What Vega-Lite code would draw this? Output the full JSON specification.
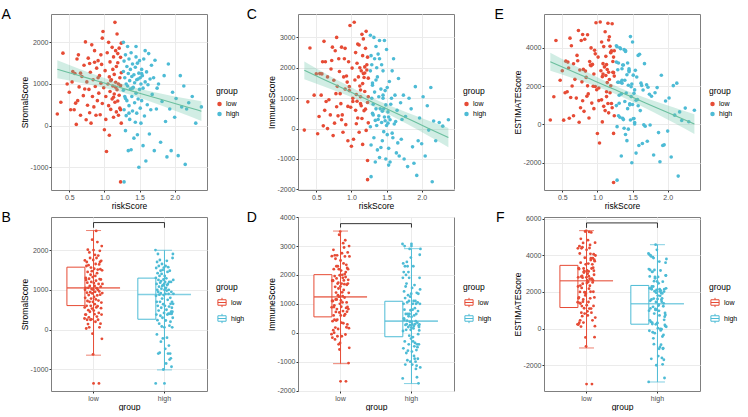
{
"$schema": "https://vega.github.io/schema/vega-lite/v6.json",
"padding": {"left": 0, "top": 7, "right": 0, "bottom": 0},
"datasets": {
"samples": [
{"id":1,"r":0.33,"g":"low","s":280,"i":-50,"e":230},
{"id":3,"r":0.38,"g":"low","s":560,"i":880,"e":1440},
{"id":5,"r":0.41,"g":"low","s":1740,"i":2650,"e":4380},
{"id":7,"r":0.47,"g":"low","s":1000,"i":1100,"e":2300},
{"id":9,"r":0.50,"g":"low","s":800,"i":1800,"e":2800},
{"id":11,"r":0.52,"g":"low","s":380,"i":-170,"e":220},
{"id":13,"r":0.54,"g":"low","s":1050,"i":400,"e":1650},
{"id":15,"r":0.55,"g":"low","s":1300,"i":1810,"e":3300},
{"id":17,"r":0.57,"g":"low","s":380,"i":1100,"e":1700},
{"id":19,"r":0.58,"g":"low","s":1250,"i":1800,"e":3250},
{"id":21,"r":0.60,"g":"low","s":30,"i":90,"e":320},
{"id":23,"r":0.61,"g":"low","s":1600,"i":2870,"e":4500},
{"id":25,"r":0.62,"g":"low","s":600,"i":600,"e":1400},
{"id":27,"r":0.63,"g":"low","s":1700,"i":2200,"e":4100},
{"id":29,"r":0.64,"g":"low","s":930,"i":890,"e":2000},
{"id":31,"r":0.66,"g":"low","s":250,"i":0,"e":450},
{"id":33,"r":0.68,"g":"low","s":1180,"i":950,"e":2350},
{"id":35,"r":0.70,"g":"low","s":720,"i":450,"e":1370},
{"id":37,"r":0.71,"g":"low","s":1450,"i":1960,"e":3600},
{"id":39,"r":0.73,"g":"low","s":2010,"i":2680,"e":4900},
{"id":41,"r":0.74,"g":"low","s":140,"i":-230,"e":110},
{"id":43,"r":0.75,"g":"low","s":1050,"i":1590,"e":2840},
{"id":45,"r":0.76,"g":"low","s":490,"i":180,"e":870},
{"id":47,"r":0.77,"g":"low","s":1620,"i":2560,"e":4380},
{"id":49,"r":0.78,"g":"low","s":870,"i":1150,"e":2220},
{"id":51,"r":0.79,"g":"low","s":310,"i":720,"e":1230},
{"id":53,"r":0.80,"g":"low","s":1280,"i":1390,"e":2870},
{"id":55,"r":0.81,"g":"low","s":60,"i":420,"e":680},
{"id":57,"r":0.82,"g":"low","s":1940,"i":2300,"e":4440},
{"id":59,"r":0.83,"g":"low","s":700,"i":1880,"e":2780},
{"id":61,"r":0.84,"g":"low","s":1100,"i":1150,"e":2450},
{"id":63,"r":0.85,"g":"low","s":450,"i":820,"e":1470},
{"id":65,"r":0.86,"g":"low","s":1800,"i":2680,"e":4680},
{"id":67,"r":0.87,"g":"low","s":940,"i":450,"e":1590},
{"id":69,"r":0.88,"g":"low","s":250,"i":-120,"e":330},
{"id":71,"r":0.89,"g":"low","s":1380,"i":1700,"e":3280},
{"id":73,"r":0.90,"g":"low","s":600,"i":2300,"e":3100},
{"id":75,"r":0.91,"g":"low","s":1560,"i":1300,"e":3060},
{"id":77,"r":0.92,"g":"low","s":780,"i":130,"e":1110},
{"id":79,"r":0.93,"g":"low","s":1200,"i":1730,"e":3130},
{"id":81,"r":0.94,"g":"low","s":260,"i":1530,"e":1990},
{"id":83,"r":0.95,"g":"low","s":1020,"i":-400,"e":820},
{"id":85,"r":0.96,"g":"low","s":1470,"i":2200,"e":3870},
{"id":87,"r":0.97,"g":"low","s":530,"i":1250,"e":1980},
{"id":89,"r":0.98,"g":"low","s":2260,"i":3390,"e":5300},
{"id":91,"r":0.99,"g":"low","s":910,"i":700,"e":1810},
{"id":93,"r":1.00,"g":"low","s":-100,"i":-580,"e":-480},
{"id":95,"r":1.01,"g":"low","s":1320,"i":1990,"e":3510},
{"id":97,"r":1.02,"g":"low","s":700,"i":1000,"e":1900},
{"id":99,"r":1.03,"g":"low","s":-620,"i":-350,"e":-970},
{"id":101,"r":1.04,"g":"low","s":1750,"i":3500,"e":5340},
{"id":103,"r":1.05,"g":"low","s":1000,"i":1600,"e":2800},
{"id":105,"r":1.06,"g":"low","s":2000,"i":2500,"e":4300},
{"id":107,"r":1.06,"g":"low","s":480,"i":600,"e":1280},
{"id":109,"r":1.07,"g":"low","s":1170,"i":1120,"e":2490},
{"id":111,"r":1.08,"g":"low","s":820,"i":2150,"e":3170},
{"id":113,"r":1.08,"g":"low","s":1530,"i":900,"e":2630},
{"id":115,"r":1.09,"g":"low","s":390,"i":350,"e":940},
{"id":117,"r":1.10,"g":"low","s":1100,"i":1700,"e":3000},
{"id":119,"r":1.11,"g":"low","s":640,"i":-120,"e":720},
{"id":121,"r":1.11,"g":"low","s":1880,"i":2750,"e":4830},
{"id":123,"r":1.12,"g":"low","s":950,"i":1400,"e":2550},
{"id":125,"r":1.12,"g":"low","s":1350,"i":2000,"e":3550},
{"id":127,"r":1.13,"g":"low","s":200,"i":1050,"e":1450},
{"id":129,"r":1.13,"g":"low","s":1650,"i":1270,"e":3120},
{"id":131,"r":1.14,"g":"low","s":760,"i":1900,"e":2860},
{"id":133,"r":1.14,"g":"low","s":1230,"i":750,"e":2180},
{"id":135,"r":1.15,"g":"low","s":2480,"i":3100,"e":5280},
{"id":137,"r":1.15,"g":"low","s":560,"i":330,"e":1090},
{"id":139,"r":1.16,"g":"low","s":1800,"i":2400,"e":4400},
{"id":141,"r":1.16,"g":"low","s":1040,"i":1480,"e":2720},
{"id":143,"r":1.17,"g":"low","s":330,"i":1810,"e":2340},
{"id":145,"r":1.17,"g":"low","s":1420,"i":2950,"e":4570},
{"id":147,"r":1.18,"g":"low","s":860,"i":590,"e":1650},
{"id":149,"r":1.18,"g":"low","s":2200,"i":1680,"e":4080},
{"id":151,"r":1.19,"g":"low","s":590,"i":1220,"e":2010},
{"id":153,"r":1.19,"g":"low","s":1510,"i":2030,"e":3740},
{"id":155,"r":1.20,"g":"low","s":1000,"i":2640,"e":3840},
{"id":157,"r":1.20,"g":"low","s":250,"i":640,"e":1090},
{"id":159,"r":1.21,"g":"low","s":1860,"i":3200,"e":5250},
{"id":161,"r":1.21,"g":"low","s":730,"i":-60,"e":870},
{"id":163,"r":1.22,"g":"low","s":1150,"i":1930,"e":3280},
{"id":165,"r":1.22,"g":"low","s":420,"i":2100,"e":2720},
{"id":167,"r":1.23,"g":"low","s":-1350,"i":-1680,"e":-3030},
{"id":169,"r":1.23,"g":"low","s":1640,"i":860,"e":2700},
{"id":171,"r":1.23,"g":"low","s":960,"i":2350,"e":3510},
{"id":173,"r":1.24,"g":"low","s":60,"i":190,"e":450},
{"id":175,"r":1.24,"g":"low","s":1270,"i":1050,"e":2520},
{"id":177,"r":1.24,"g":"low","s":1980,"i":1660,"e":3840},
{"id":179,"r":0.95,"g":"low","s":1700,"i":730,"e":2630},
{"id":181,"r":0.72,"g":"low","s":880,"i":2240,"e":3320},
{"id":183,"r":0.86,"g":"low","s":1520,"i":290,"e":2010},
{"id":185,"r":1.02,"g":"low","s":150,"i":890,"e":1240},
{"id":187,"r":1.09,"g":"low","s":1080,"i":2780,"e":4060},
{"id":189,"r":0.66,"g":"low","s":1260,"i":1700,"e":3160},
{"id":191,"r":0.59,"g":"low","s":540,"i":2200,"e":2940},
{"id":193,"r":1.19,"g":"low","s":1730,"i":1830,"e":3760},
{"id":195,"r":1.13,"g":"low","s":680,"i":820,"e":1700},
{"id":197,"r":1.23,"g":"low","s":380,"i":-1050,"e":-470},
{"id":199,"r":0.97,"g":"low","s":2100,"i":1380,"e":3680},
{"id":201,"r":1.07,"g":"low","s":-230,"i":160,"e":130},
{"id":203,"r":0.79,"g":"low","s":1490,"i":3000,"e":4690},
{"id":205,"r":1.16,"g":"low","s":920,"i":-520,"e":600},
{"id":207,"r":0.91,"g":"low","s":1150,"i":2640,"e":3990},
{"id":2,"r":1.27,"g":"high","s":2000,"i":3070,"e":4100},
{"id":4,"r":1.28,"g":"high","s":-1350,"i":-1580,"e":-2910},
{"id":6,"r":1.27,"g":"high","s":1300,"i":1900,"e":3250},
{"id":8,"r":1.27,"g":"high","s":850,"i":60,"e":980},
{"id":10,"r":1.28,"g":"high","s":1550,"i":2400,"e":4050},
{"id":12,"r":1.28,"g":"high","s":380,"i":-540,"e":-120},
{"id":14,"r":1.29,"g":"high","s":1150,"i":1000,"e":2200},
{"id":16,"r":1.29,"g":"high","s":700,"i":2100,"e":2850},
{"id":18,"r":1.30,"g":"high","s":-120,"i":500,"e":450},
{"id":20,"r":1.30,"g":"high","s":1700,"i":1430,"e":3200},
{"id":22,"r":1.31,"g":"high","s":1000,"i":450,"e":1520},
{"id":24,"r":1.31,"g":"high","s":240,"i":800,"e":1100},
{"id":26,"r":1.32,"g":"high","s":1420,"i":3000,"e":4000},
{"id":28,"r":1.32,"g":"high","s":600,"i":-300,"e":370},
{"id":30,"r":1.33,"g":"high","s":1900,"i":2300,"e":3950},
{"id":32,"r":1.33,"g":"high","s":950,"i":1200,"e":2200},
{"id":34,"r":1.34,"g":"high","s":-600,"i":-1100,"e":-1650},
{"id":36,"r":1.34,"g":"high","s":1250,"i":270,"e":1590},
{"id":38,"r":1.35,"g":"high","s":480,"i":1600,"e":2150},
{"id":40,"r":1.35,"g":"high","s":1600,"i":650,"e":2300},
{"id":42,"r":1.36,"g":"high","s":1080,"i":2000,"e":3100},
{"id":44,"r":1.36,"g":"high","s":150,"i":100,"e":320},
{"id":46,"r":1.37,"g":"high","s":880,"i":-700,"e":250},
{"id":48,"r":1.37,"g":"high","s":1350,"i":1700,"e":3100},
{"id":50,"r":1.38,"g":"high","s":-580,"i":300,"e":-200},
{"id":52,"r":1.38,"g":"high","s":1750,"i":2450,"e":3900},
{"id":54,"r":1.39,"g":"high","s":700,"i":420,"e":1190},
{"id":56,"r":1.39,"g":"high","s":1180,"i":1050,"e":2300},
{"id":58,"r":1.40,"g":"high","s":350,"i":-950,"e":-530},
{"id":60,"r":1.40,"g":"high","s":1480,"i":2300,"e":3850},
{"id":62,"r":1.41,"g":"high","s":920,"i":650,"e":1640},
{"id":64,"r":1.42,"g":"high","s":-300,"i":-620,"e":-850},
{"id":66,"r":1.42,"g":"high","s":1220,"i":1300,"e":2590},
{"id":68,"r":1.43,"g":"high","s":550,"i":200,"e":820},
{"id":70,"r":1.43,"g":"high","s":1030,"i":2100,"e":3200},
{"id":72,"r":1.44,"g":"high","s":1400,"i":570,"e":2040},
{"id":74,"r":1.44,"g":"high","s":80,"i":-400,"e":-250},
{"id":76,"r":1.45,"g":"high","s":1650,"i":1100,"e":2820},
{"id":78,"r":1.45,"g":"high","s":780,"i":1900,"e":2750},
{"id":80,"r":1.46,"g":"high","s":1100,"i":-100,"e":1070},
{"id":82,"r":1.46,"g":"high","s":300,"i":650,"e":1020},
{"id":84,"r":1.47,"g":"high","s":1500,"i":2900,"e":4580},
{"id":86,"r":1.47,"g":"high","s":-220,"i":380,"e":230},
{"id":88,"r":1.48,"g":"high","s":1120,"i":260,"e":1450},
{"id":90,"r":1.48,"g":"high","s":640,"i":1250,"e":1960},
{"id":92,"r":1.49,"g":"high","s":-1000,"i":-1000,"e":-2000},
{"id":94,"r":1.49,"g":"high","s":1260,"i":780,"e":2110},
{"id":96,"r":1.50,"g":"high","s":870,"i":100,"e":1040},
{"id":98,"r":1.50,"g":"high","s":1560,"i":2600,"e":4300},
{"id":100,"r":1.51,"g":"high","s":420,"i":-200,"e":290},
{"id":102,"r":1.51,"g":"high","s":1150,"i":1350,"e":2570},
{"id":104,"r":1.52,"g":"high","s":60,"i":180,"e":310},
{"id":106,"r":1.52,"g":"high","s":1000,"i":550,"e":1620},
{"id":108,"r":1.53,"g":"high","s":1350,"i":380,"e":1800},
{"id":110,"r":1.53,"g":"high","s":600,"i":-650,"e":20},
{"id":112,"r":1.54,"g":"high","s":1200,"i":1550,"e":2820},
{"id":114,"r":1.55,"g":"high","s":-480,"i":-1100,"e":-1500},
{"id":116,"r":1.55,"g":"high","s":900,"i":290,"e":1260},
{"id":118,"r":1.56,"g":"high","s":1600,"i":800,"e":2470},
{"id":120,"r":1.57,"g":"high","s":230,"i":1000,"e":1300},
{"id":122,"r":1.58,"g":"high","s":1050,"i":-150,"e":970},
{"id":124,"r":1.59,"g":"high","s":-850,"i":-300,"e":-1100},
{"id":126,"r":1.60,"g":"high","s":1290,"i":2300,"e":3660},
{"id":128,"r":1.61,"g":"high","s":500,"i":150,"e":720},
{"id":130,"r":1.62,"g":"high","s":980,"i":1100,"e":2150},
{"id":132,"r":1.63,"g":"high","s":1730,"i":230,"e":2030},
{"id":134,"r":1.64,"g":"high","s":-200,"i":-800,"e":-1000},
{"id":136,"r":1.65,"g":"high","s":1120,"i":600,"e":1790},
{"id":138,"r":1.66,"g":"high","s":380,"i":-470,"e":-20},
{"id":140,"r":1.67,"g":"high","s":1450,"i":1650,"e":3170},
{"id":142,"r":1.68,"g":"high","s":750,"i":-900,"e":-100},
{"id":144,"r":1.70,"g":"high","s":1150,"i":850,"e":2070},
{"id":146,"r":1.71,"g":"high","s":-600,"i":-350,"e":-880},
{"id":148,"r":1.72,"g":"high","s":1570,"i":300,"e":1940},
{"id":150,"r":1.74,"g":"high","s":400,"i":1100,"e":1570},
{"id":152,"r":1.75,"g":"high","s":900,"i":-1000,"e":-30},
{"id":154,"r":1.77,"g":"high","s":1000,"i":400,"e":1470},
{"id":156,"r":1.80,"g":"high","s":-400,"i":-1250,"e":-1600},
{"id":158,"r":1.82,"g":"high","s":580,"i":1000,"e":1650},
{"id":160,"r":1.85,"g":"high","s":1200,"i":650,"e":1920},
{"id":162,"r":1.87,"g":"high","s":100,"i":-600,"e":-430},
{"id":164,"r":1.89,"g":"high","s":-750,"i":-1140,"e":-1950},
{"id":166,"r":1.91,"g":"high","s":1480,"i":1380,"e":2560},
{"id":168,"r":1.93,"g":"high","s":400,"i":-1540,"e":-1100},
{"id":170,"r":1.95,"g":"high","s":-600,"i":-400,"e":-1070},
{"id":172,"r":1.97,"g":"high","s":800,"i":350,"e":1220},
{"id":174,"r":2.00,"g":"high","s":200,"i":-500,"e":-350},
{"id":176,"r":2.02,"g":"high","s":650,"i":1050,"e":1380},
{"id":178,"r":2.05,"g":"high","s":-720,"i":-900,"e":-1700},
{"id":180,"r":2.08,"g":"high","s":1200,"i":750,"e":2020},
{"id":182,"r":2.10,"g":"high","s":450,"i":-50,"e":480},
{"id":184,"r":2.13,"g":"high","s":950,"i":1350,"e":2150},
{"id":186,"r":2.15,"g":"high","s":-930,"i":-1750,"e":-2700},
{"id":188,"r":2.17,"g":"high","s":400,"i":250,"e":650},
{"id":190,"r":2.20,"g":"high","s":550,"i":-400,"e":200},
{"id":192,"r":2.25,"g":"high","s":700,"i":200,"e":850},
{"id":194,"r":2.30,"g":"high","s":60,"i":80,"e":140},
{"id":196,"r":2.38,"g":"high","s":450,"i":290,"e":740},
{"id":198,"r":1.58,"g":"high","s":1800,"i":1900,"e":3600},
{"id":200,"r":1.35,"g":"high","s":300,"i":2700,"e":2900},
{"id":202,"r":1.45,"g":"high","s":1900,"i":1000,"e":2900},
{"id":204,"r":1.30,"g":"high","s":650,"i":1500,"e":2200},
{"id":206,"r":1.53,"g":"high","s":1250,"i":-1200,"e":100},
{"id":208,"r":1.40,"g":"high","s":900,"i":2900,"e":3800}
],
"fit": [
{"x":0.33,"sFit":1352,"sLo":1135,"sHi":1569,"iFit":1918,"iLo":1625,"iHi":2211,"eFit":3270,"eLo":2800,"eHi":3740},
{"x":0.6,"sFit":1220,"sLo":1049,"sHi":1391,"iFit":1626,"iLo":1395,"iHi":1857,"eFit":2842,"eLo":2473,"eHi":3211},
{"x":0.9,"sFit":1073,"sLo":945,"sHi":1201,"iFit":1302,"iLo":1130,"iHi":1474,"eFit":2365,"eLo":2093,"eHi":2637},
{"x":1.2,"sFit":926,"sLo":824,"sHi":1028,"iFit":978,"iLo":840,"iHi":1116,"eFit":1889,"eLo":1675,"eHi":2103},
{"x":1.3,"sFit":877,"sLo":777,"sHi":977,"iFit":870,"iLo":735,"iHi":1005,"eFit":1731,"eLo":1521,"eHi":1941},
{"x":1.5,"sFit":779,"sLo":671,"sHi":887,"iFit":654,"iLo":509,"iHi":799,"eFit":1413,"eLo":1186,"eHi":1640},
{"x":1.8,"sFit":632,"sLo":491,"sHi":773,"iFit":330,"iLo":140,"iHi":520,"eFit":937,"eLo":635,"eHi":1239},
{"x":2.1,"sFit":485,"sLo":298,"sHi":672,"iFit":6,"iLo":-247,"iHi":259,"eFit":461,"eLo":56,"eHi":866},
{"x":2.38,"sFit":347,"sLo":111,"sHi":583,"iFit":-296,"iLo":-615,"iHi":23,"eFit":17,"eLo":-496,"eHi":530}
],
"stats": [
{"p":"s","g":"low","lo":-640,"q1":605,"med":1050,"q3":1570,"hi":2490},
{"p":"s","g":"high","lo":-1010,"q1":262,"med":882,"q3":1295,"hi":1995},
{"p":"i","g":"low","lo":-1069,"q1":550,"med":1242,"q3":2010,"hi":3519},
{"p":"i","g":"high","lo":-1758,"q1":-138,"med":401,"q3":1090,"hi":2910},
{"p":"e","g":"low","lo":-1058,"q1":1150,"med":2614,"q3":3452,"hi":5348},
{"p":"e","g":"high","lo":-2915,"q1":240,"med":1353,"q3":2356,"hi":4581}
],
"brk": [
{"p":"s","g":"low","y":2560,"o":1},{"p":"s","g":"low","y":2690,"o":2},{"p":"s","g":"high","y":2690,"o":3},{"p":"s","g":"high","y":2560,"o":4},
{"p":"i","g":"low","y":3640,"o":1},{"p":"i","g":"low","y":3775,"o":2},{"p":"i","g":"high","y":3775,"o":3},{"p":"i","g":"high","y":3640,"o":4},
{"p":"e","g":"low","y":5500,"o":1},{"p":"e","g":"low","y":5770,"o":2},{"p":"e","g":"high","y":5770,"o":3},{"p":"e","g":"high","y":5500,"o":4}
]
},
"config": {
"font": "Liberation Sans",
"view": {"stroke": "#7f7f7f", "strokeWidth": 1},
"axis": {"domain": false, "gridColor": "#EBEBEB", "gridWidth": 1, "labelFontSize": 7, "labelColor": "#4D4D4D", "titleFontSize": 8.5, "titleFontWeight": "normal", "titleColor": "#000000", "tickColor": "#333333", "tickSize": 2, "labelPadding": 1, "titlePadding": 1, "labelOverlap": false, "labelFlush": false},
"legend": {"titleFontSize": 8.5, "titleFontWeight": "normal", "labelFontSize": 7, "labelColor": "#000000", "titleColor": "#000000", "offset": 9, "padding": 0, "labelOffset": 3, "layout": {"right": {"anchor": "middle"}}},
"title": {"fontSize": 14, "fontWeight": "normal", "color": "#000000"}
},
"spacing": 0,
"resolve": {"scale": {"color": "independent", "stroke": "independent"}, "legend": {"color": "independent", "stroke": "independent"}},
"hconcat": [
{"spacing": 0,
"resolve": {"scale": {"color": "independent", "stroke": "independent"}, "legend": {"color": "independent", "stroke": "independent"}},
"vconcat": [
{"width": 156, "height": 176, "title": {"text": "A", "orient": "left", "anchor": "end", "frame": "group", "angle": 0, "align": "right", "baseline": "top", "offset": 0, "dy": -6},
"resolve": {"axis": {"x": "independent", "y": "independent"}},
"layer": [
{"data": {"name": "samples"}, "mark": {"type": "point", "filled": true, "size": 13, "opacity": 1},
"encoding": {
"x": {"field": "r", "type": "quantitative", "title": "riskScore", "scale": {"domain": [0.24, 2.46], "nice": false, "zero": false}, "axis": {"values": [0.5,1,1.5,2], "labelExpr": "format(datum.value,'.1f')"}},
"y": {"field": "s", "type": "quantitative", "title": "StromalScore", "scale": {"domain": [-1545, 2680], "nice": false, "zero": false}, "axis": {"values": [-1000,0,1000,2000], "labelExpr": "'' + datum.value"}},
"color": {"field": "g", "type": "nominal", "scale": {"domain": ["low","high"], "range": ["#E64B35","#4DBBD5"]}, "legend": {"title": "group", "symbolType": "circle", "symbolSize": 20}}}},
{"data": {"name": "fit"}, "mark": {"type": "area", "color": "#66C2A5", "opacity": 0.3, "interpolate": "monotone"},
"encoding": {"x": {"field": "x", "type": "quantitative", "axis": {"orient": "top", "values": [0.25,0.75,1.25,1.75,2.25], "labels": false, "ticks": false, "domain": false, "title": null, "gridWidth": 0.5}}, "y": {"field": "sLo", "type": "quantitative", "axis": {"orient": "right", "values": [-1500,-500,500,1500,2500], "labels": false, "ticks": false, "domain": false, "title": null, "gridWidth": 0.5}}, "y2": {"field": "sHi"}}},
{"data": {"name": "fit"}, "mark": {"type": "line", "color": "#6BBF9E", "strokeWidth": 1.1, "interpolate": "monotone"},
"encoding": {"x": {"field": "x", "type": "quantitative", "axis": null}, "y": {"field": "sFit", "type": "quantitative", "axis": null}}},
{"mark": {"type": "rule", "color": "#000000", "strokeDash": [4, 3], "strokeWidth": 1}, "encoding": {"x": {"datum": 1.25, "axis": null}}},
{"mark": {"type": "text", "align": "left", "baseline": "middle", "fontSize": 8}, "encoding": {"x": {"datum": 0.35, "axis": null}, "y": {"datum": 2336, "axis": null}, "text": {"value": "R = −0.27, p = 1.6e−05"}}}
]},
{"width": 156, "height": 174, "title": {"text": "B", "orient": "left", "anchor": "end", "frame": "group", "angle": 0, "align": "right", "baseline": "top", "offset": 0, "dy": -6},
"resolve": {"axis": {"y": "independent"}},
"layer": [
{"data": {"name": "stats"}, "transform": [{"filter": "datum.p === 's'"}], "mark": {"type": "rule", "strokeWidth": 1},
"encoding": {
"x": {"field": "g", "type": "nominal", "title": "group", "scale": {"type": "band", "domain": ["low","high"], "paddingInner": 0.249, "paddingOuter": 0.2245}, "axis": {"labelAngle": 0, "bandPosition": 0.5, "grid": true}},
"y": {"field": "lo", "type": "quantitative", "title": "StromalScore", "scale": {"domain": [-1540, 2830], "nice": false, "zero": false}, "axis": {"values": [-1000,0,1000,2000], "labelExpr": "'' + datum.value"}},
"y2": {"field": "hi"},
"color": {"field": "g", "type": "nominal", "scale": {"domain": ["low","high","none"], "range": ["#E64B35","#4DBBD5","#999999"]}, "legend": null}}},
{"data": {"name": "stats"}, "transform": [{"filter": "datum.p === 's'"}], "mark": {"type": "tick", "size": 15, "thickness": 1},
"encoding": {"x": {"field": "g", "type": "nominal"}, "y": {"field": "lo", "type": "quantitative", "axis": {"orient": "right", "values": [-1500,-500,500,1500,2500], "labels": false, "ticks": false, "domain": false, "title": null, "gridWidth": 0.5}}, "color": {"field": "g", "type": "nominal", "legend": null}}},
{"data": {"name": "stats"}, "transform": [{"filter": "datum.p === 's'"}], "mark": {"type": "tick", "size": 15, "thickness": 1},
"encoding": {"x": {"field": "g", "type": "nominal"}, "y": {"field": "hi", "type": "quantitative", "axis": null}, "color": {"field": "g", "type": "nominal", "legend": null}}},
{"data": {"name": "stats"}, "transform": [{"filter": "datum.p === 's'"}], "mark": {"type": "bar", "fill": "#ffffff", "strokeWidth": 1},
"encoding": {"x": {"field": "g", "type": "nominal"}, "y": {"field": "q1", "type": "quantitative", "axis": null}, "y2": {"field": "q3"},
"stroke": {"field": "g", "type": "nominal", "scale": {"domain": ["low","high"], "range": ["#E64B35","#4DBBD5"]}, "legend": {"title": "group", "symbolType": "M-0.75,-0.5H0.75V0.5H-0.75Z M-0.75,0H0.75 M0,-0.85V-0.5 M0,0.5V0.85", "symbolSize": 120, "symbolStrokeWidth": 1, "symbolFillColor": "#ffffff"}}}},
{"data": {"name": "stats"}, "transform": [{"filter": "datum.p === 's'"}], "mark": {"type": "tick", "size": 53, "thickness": 1.6},
"encoding": {"x": {"field": "g", "type": "nominal"}, "y": {"field": "med", "type": "quantitative", "axis": null}, "color": {"field": "g", "type": "nominal", "legend": null}}},
{"data": {"name": "samples"}, "mark": {"type": "point", "filled": true, "size": 8, "opacity": 1},
"encoding": {"x": {"field": "g", "type": "nominal"}, "xOffset": {"field": "id", "type": "quantitative", "scale": {"domain": [1, 208], "range": [17.6, 35.6]}}, "y": {"field": "s", "type": "quantitative", "axis": null}, "color": {"field": "g", "type": "nominal", "legend": null}}},
{"data": {"name": "samples"}, "transform": [{"filter": "(datum.g === 'low' && datum.s < -640) || (datum.g === 'high' && datum.s < -1010)"}], "mark": {"type": "point", "filled": true, "size": 8, "opacity": 1},
"encoding": {"x": {"field": "g", "type": "nominal"}, "y": {"field": "s", "type": "quantitative", "axis": null}, "color": {"field": "g", "type": "nominal", "legend": null}}},
{"data": {"name": "brk"}, "transform": [{"filter": "datum.p === 's'"}], "mark": {"type": "line", "color": "#000000", "strokeWidth": 0.8},
"encoding": {"x": {"field": "g", "type": "nominal"}, "y": {"field": "y", "type": "quantitative", "axis": null}, "order": {"field": "o", "type": "quantitative"}}},
{"mark": {"type": "text", "fontSize": 8, "baseline": "alphabetic"}, "encoding": {"y": {"datum": 2740, "axis": null}, "text": {"value": "**"}}}
]}
]},
{"spacing": 0,
"resolve": {"scale": {"color": "independent", "stroke": "independent"}, "legend": {"color": "independent", "stroke": "independent"}},
"vconcat": [
{"width": 156, "height": 176, "title": {"text": "C", "orient": "left", "anchor": "end", "frame": "group", "angle": 0, "align": "right", "baseline": "top", "offset": 0, "dy": -6},
"resolve": {"axis": {"x": "independent", "y": "independent"}},
"layer": [
{"data": {"name": "samples"}, "mark": {"type": "point", "filled": true, "size": 13, "opacity": 1},
"encoding": {
"x": {"field": "r", "type": "quantitative", "title": "riskScore", "scale": {"domain": [0.24, 2.46], "nice": false, "zero": false}, "axis": {"values": [0.5,1,1.5,2], "labelExpr": "format(datum.value,'.1f')"}},
"y": {"field": "i", "type": "quantitative", "title": "ImmuneScore", "scale": {"domain": [-2020, 3770], "nice": false, "zero": false}, "axis": {"values": [-2000,-1000,0,1000,2000,3000], "labelExpr": "'' + datum.value"}},
"color": {"field": "g", "type": "nominal", "scale": {"domain": ["low","high"], "range": ["#E64B35","#4DBBD5"]}, "legend": {"title": "group", "symbolType": "circle", "symbolSize": 20}}}},
{"data": {"name": "fit"}, "mark": {"type": "area", "color": "#66C2A5", "opacity": 0.3, "interpolate": "monotone"},
"encoding": {"x": {"field": "x", "type": "quantitative", "axis": {"orient": "top", "values": [0.25,0.75,1.25,1.75,2.25], "labels": false, "ticks": false, "domain": false, "title": null, "gridWidth": 0.5}}, "y": {"field": "iLo", "type": "quantitative", "axis": {"orient": "right", "values": [-1500,-500,500,1500,2500,3500], "labels": false, "ticks": false, "domain": false, "title": null, "gridWidth": 0.5}}, "y2": {"field": "iHi"}}},
{"data": {"name": "fit"}, "mark": {"type": "line", "color": "#6BBF9E", "strokeWidth": 1.1, "interpolate": "monotone"},
"encoding": {"x": {"field": "x", "type": "quantitative", "axis": null}, "y": {"field": "iFit", "type": "quantitative", "axis": null}}},
{"mark": {"type": "rule", "color": "#000000", "strokeDash": [4, 3], "strokeWidth": 1}, "encoding": {"x": {"datum": 1.25, "axis": null}}},
{"mark": {"type": "text", "align": "left", "baseline": "middle", "fontSize": 8}, "encoding": {"x": {"datum": 0.34, "axis": null}, "y": {"datum": 3300, "axis": null}, "text": {"value": "R = −0.37, p = 8.1e−10"}}}
]},
{"width": 156, "height": 174, "title": {"text": "D", "orient": "left", "anchor": "end", "frame": "group", "angle": 0, "align": "right", "baseline": "top", "offset": 0, "dy": -6},
"resolve": {"axis": {"y": "independent"}},
"layer": [
{"data": {"name": "stats"}, "transform": [{"filter": "datum.p === 'i'"}], "mark": {"type": "rule", "strokeWidth": 1},
"encoding": {
"x": {"field": "g", "type": "nominal", "title": "group", "scale": {"type": "band", "domain": ["low","high"], "paddingInner": 0.249, "paddingOuter": 0.2245}, "axis": {"labelAngle": 0, "bandPosition": 0.5, "grid": true}},
"y": {"field": "lo", "type": "quantitative", "title": "ImmuneScore", "scale": {"domain": [-2015, 4005], "nice": false, "zero": false}, "axis": {"values": [-2000,-1000,0,1000,2000,3000,4000], "labelExpr": "'' + datum.value"}},
"y2": {"field": "hi"},
"color": {"field": "g", "type": "nominal", "scale": {"domain": ["low","high","none"], "range": ["#E64B35","#4DBBD5","#999999"]}, "legend": null}}},
{"data": {"name": "stats"}, "transform": [{"filter": "datum.p === 'i'"}], "mark": {"type": "tick", "size": 15, "thickness": 1},
"encoding": {"x": {"field": "g", "type": "nominal"}, "y": {"field": "lo", "type": "quantitative", "axis": {"orient": "right", "values": [-1500,-500,500,1500,2500,3500], "labels": false, "ticks": false, "domain": false, "title": null, "gridWidth": 0.5}}, "color": {"field": "g", "type": "nominal", "legend": null}}},
{"data": {"name": "stats"}, "transform": [{"filter": "datum.p === 'i'"}], "mark": {"type": "tick", "size": 15, "thickness": 1},
"encoding": {"x": {"field": "g", "type": "nominal"}, "y": {"field": "hi", "type": "quantitative", "axis": null}, "color": {"field": "g", "type": "nominal", "legend": null}}},
{"data": {"name": "stats"}, "transform": [{"filter": "datum.p === 'i'"}], "mark": {"type": "bar", "fill": "#ffffff", "strokeWidth": 1},
"encoding": {"x": {"field": "g", "type": "nominal"}, "y": {"field": "q1", "type": "quantitative", "axis": null}, "y2": {"field": "q3"},
"stroke": {"field": "g", "type": "nominal", "scale": {"domain": ["low","high"], "range": ["#E64B35","#4DBBD5"]}, "legend": {"title": "group", "symbolType": "M-0.75,-0.5H0.75V0.5H-0.75Z M-0.75,0H0.75 M0,-0.85V-0.5 M0,0.5V0.85", "symbolSize": 120, "symbolStrokeWidth": 1, "symbolFillColor": "#ffffff"}}}},
{"data": {"name": "stats"}, "transform": [{"filter": "datum.p === 'i'"}], "mark": {"type": "tick", "size": 53, "thickness": 1.6},
"encoding": {"x": {"field": "g", "type": "nominal"}, "y": {"field": "med", "type": "quantitative", "axis": null}, "color": {"field": "g", "type": "nominal", "legend": null}}},
{"data": {"name": "samples"}, "mark": {"type": "point", "filled": true, "size": 8, "opacity": 1},
"encoding": {"x": {"field": "g", "type": "nominal"}, "xOffset": {"field": "id", "type": "quantitative", "scale": {"domain": [1, 208], "range": [17.6, 35.6]}}, "y": {"field": "i", "type": "quantitative", "axis": null}, "color": {"field": "g", "type": "nominal", "legend": null}}},
{"data": {"name": "samples"}, "transform": [{"filter": "(datum.g === 'low' && datum.i < -1069) || (datum.g === 'high' && (datum.i > 2910 || datum.i < -1758))"}], "mark": {"type": "point", "filled": true, "size": 8, "opacity": 1},
"encoding": {"x": {"field": "g", "type": "nominal"}, "y": {"field": "i", "type": "quantitative", "axis": null}, "color": {"field": "g", "type": "nominal", "legend": null}}},
{"data": {"name": "brk"}, "transform": [{"filter": "datum.p === 'i'"}], "mark": {"type": "line", "color": "#000000", "strokeWidth": 0.8},
"encoding": {"x": {"field": "g", "type": "nominal"}, "y": {"field": "y", "type": "quantitative", "axis": null}, "order": {"field": "o", "type": "quantitative"}}},
{"mark": {"type": "text", "fontSize": 8, "baseline": "alphabetic"}, "encoding": {"y": {"datum": 3855, "axis": null}, "text": {"value": "***"}}}
]}
]},
{"spacing": 0,
"resolve": {"scale": {"color": "independent", "stroke": "independent"}, "legend": {"color": "independent", "stroke": "independent"}},
"vconcat": [
{"width": 156, "height": 176, "title": {"text": "E", "orient": "left", "anchor": "end", "frame": "group", "angle": 0, "align": "right", "baseline": "top", "offset": 0, "dy": -6},
"resolve": {"axis": {"x": "independent", "y": "independent"}},
"layer": [
{"data": {"name": "samples"}, "mark": {"type": "point", "filled": true, "size": 13, "opacity": 1},
"encoding": {
"x": {"field": "r", "type": "quantitative", "title": "riskScore", "scale": {"domain": [0.24, 2.46], "nice": false, "zero": false}, "axis": {"values": [0.5,1,1.5,2], "labelExpr": "format(datum.value,'.1f')"}},
"y": {"field": "e", "type": "quantitative", "title": "ESTIMATEScore", "scale": {"domain": [-3425, 5760], "nice": false, "zero": false}, "axis": {"values": [-2000,0,2000,4000], "labelExpr": "'' + datum.value"}},
"color": {"field": "g", "type": "nominal", "scale": {"domain": ["low","high"], "range": ["#E64B35","#4DBBD5"]}, "legend": {"title": "group", "symbolType": "circle", "symbolSize": 20}}}},
{"data": {"name": "fit"}, "mark": {"type": "area", "color": "#66C2A5", "opacity": 0.3, "interpolate": "monotone"},
"encoding": {"x": {"field": "x", "type": "quantitative", "axis": {"orient": "top", "values": [0.25,0.75,1.25,1.75,2.25], "labels": false, "ticks": false, "domain": false, "title": null, "gridWidth": 0.5}}, "y": {"field": "eLo", "type": "quantitative", "axis": {"orient": "right", "values": [-3000,-1000,1000,3000,5000], "labels": false, "ticks": false, "domain": false, "title": null, "gridWidth": 0.5}}, "y2": {"field": "eHi"}}},
{"data": {"name": "fit"}, "mark": {"type": "line", "color": "#6BBF9E", "strokeWidth": 1.1, "interpolate": "monotone"},
"encoding": {"x": {"field": "x", "type": "quantitative", "axis": null}, "y": {"field": "eFit", "type": "quantitative", "axis": null}}},
{"mark": {"type": "rule", "color": "#000000", "strokeDash": [4, 3], "strokeWidth": 1}, "encoding": {"x": {"datum": 1.25, "axis": null}}},
{"mark": {"type": "text", "align": "left", "baseline": "middle", "fontSize": 8}, "encoding": {"x": {"datum": 0.34, "axis": null}, "y": {"datum": 5040, "axis": null}, "text": {"value": "R = −0.36, p = 5.4e−09"}}}
]},
{"width": 156, "height": 174, "title": {"text": "F", "orient": "left", "anchor": "end", "frame": "group", "angle": 0, "align": "right", "baseline": "top", "offset": 0, "dy": -6},
"resolve": {"axis": {"y": "independent"}},
"layer": [
{"data": {"name": "stats"}, "transform": [{"filter": "datum.p === 'e'"}], "mark": {"type": "rule", "strokeWidth": 1},
"encoding": {
"x": {"field": "g", "type": "nominal", "title": "group", "scale": {"type": "band", "domain": ["low","high"], "paddingInner": 0.249, "paddingOuter": 0.2245}, "axis": {"labelAngle": 0, "bandPosition": 0.5, "grid": true}},
"y": {"field": "lo", "type": "quantitative", "title": "ESTIMATEScore", "scale": {"domain": [-3408, 6093], "nice": false, "zero": false}, "axis": {"values": [-2000,0,2000,4000,6000], "labelExpr": "'' + datum.value"}},
"y2": {"field": "hi"},
"color": {"field": "g", "type": "nominal", "scale": {"domain": ["low","high","none"], "range": ["#E64B35","#4DBBD5","#999999"]}, "legend": null}}},
{"data": {"name": "stats"}, "transform": [{"filter": "datum.p === 'e'"}], "mark": {"type": "tick", "size": 15, "thickness": 1},
"encoding": {"x": {"field": "g", "type": "nominal"}, "y": {"field": "lo", "type": "quantitative", "axis": {"orient": "right", "values": [-3000,-1000,1000,3000,5000], "labels": false, "ticks": false, "domain": false, "title": null, "gridWidth": 0.5}}, "color": {"field": "g", "type": "nominal", "legend": null}}},
{"data": {"name": "stats"}, "transform": [{"filter": "datum.p === 'e'"}], "mark": {"type": "tick", "size": 15, "thickness": 1},
"encoding": {"x": {"field": "g", "type": "nominal"}, "y": {"field": "hi", "type": "quantitative", "axis": null}, "color": {"field": "g", "type": "nominal", "legend": null}}},
{"data": {"name": "stats"}, "transform": [{"filter": "datum.p === 'e'"}], "mark": {"type": "bar", "fill": "#ffffff", "strokeWidth": 1},
"encoding": {"x": {"field": "g", "type": "nominal"}, "y": {"field": "q1", "type": "quantitative", "axis": null}, "y2": {"field": "q3"},
"stroke": {"field": "g", "type": "nominal", "scale": {"domain": ["low","high"], "range": ["#E64B35","#4DBBD5"]}, "legend": {"title": "group", "symbolType": "M-0.75,-0.5H0.75V0.5H-0.75Z M-0.75,0H0.75 M0,-0.85V-0.5 M0,0.5V0.85", "symbolSize": 120, "symbolStrokeWidth": 1, "symbolFillColor": "#ffffff"}}}},
{"data": {"name": "stats"}, "transform": [{"filter": "datum.p === 'e'"}], "mark": {"type": "tick", "size": 53, "thickness": 1.6},
"encoding": {"x": {"field": "g", "type": "nominal"}, "y": {"field": "med", "type": "quantitative", "axis": null}, "color": {"field": "g", "type": "nominal", "legend": null}}},
{"data": {"name": "samples"}, "mark": {"type": "point", "filled": true, "size": 8, "opacity": 1},
"encoding": {"x": {"field": "g", "type": "nominal"}, "xOffset": {"field": "id", "type": "quantitative", "scale": {"domain": [1, 208], "range": [17.6, 35.6]}}, "y": {"field": "e", "type": "quantitative", "axis": null}, "color": {"field": "g", "type": "nominal", "legend": null}}},
{"data": {"name": "samples"}, "transform": [{"filter": "(datum.g === 'low' && datum.e < -1058) || (datum.g === 'high' && datum.e < -2915)"}], "mark": {"type": "point", "filled": true, "size": 8, "opacity": 1},
"encoding": {"x": {"field": "g", "type": "nominal"}, "y": {"field": "e", "type": "quantitative", "axis": null}, "color": {"field": "g", "type": "nominal", "legend": null}}},
{"data": {"name": "brk"}, "transform": [{"filter": "datum.p === 'e'"}], "mark": {"type": "line", "color": "#000000", "strokeWidth": 0.8},
"encoding": {"x": {"field": "g", "type": "nominal"}, "y": {"field": "y", "type": "quantitative", "axis": null}, "order": {"field": "o", "type": "quantitative"}}},
{"mark": {"type": "text", "fontSize": 8, "baseline": "alphabetic"}, "encoding": {"y": {"datum": 5880, "axis": null}, "text": {"value": "***"}}}
]}
]}
]
}
